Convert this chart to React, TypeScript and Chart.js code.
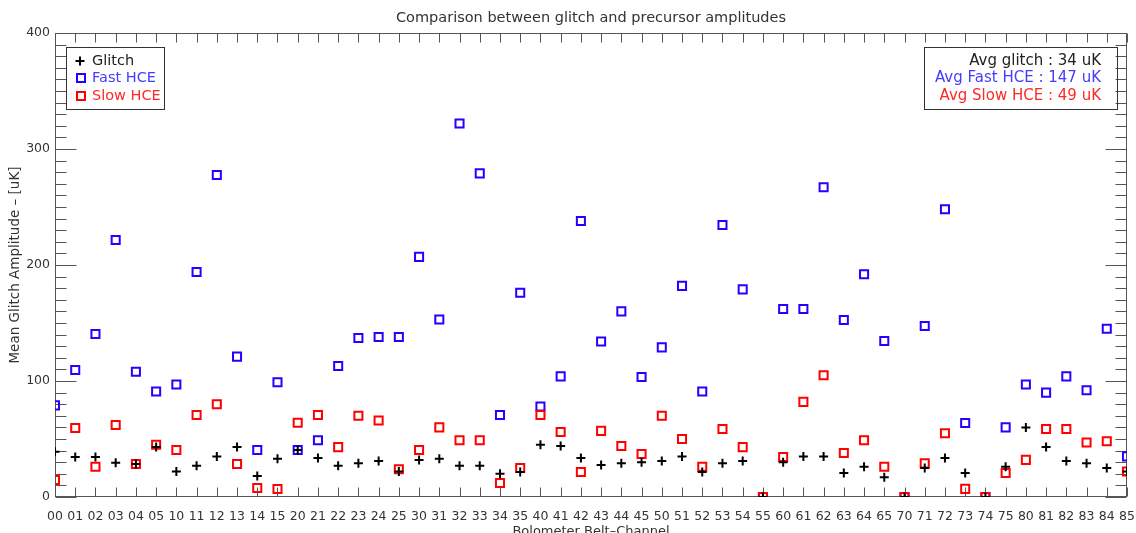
import React, { useEffect, useRef } from "react";
import { Chart, registerables } from "chart.js";

Chart.register(...registerables);

const categories = ["00","01","02","03","04","05","10","11","12","13","14","15","20","21","22","23","24","25","30","31","32","33","34","35","40","41","42","43","44","45","50","51","52","53","54","55","60","61","62","63","64","65","70","71","72","73","74","75","80","81","82","83","84","85"];

const glitch = [39,34.5,34.5,29.5,28.4,43, 22,27,35,43,18,33, 40.5,33.6,27,29,31,22, 32,33,27,27,20,21.5, 45,44,33.6,27.6,29,30, 31,35,21.5,29,31,0, 30,35,35,20.7,26,17, 0,25,33.6,20.7,0,26, 60,43,31,29,25,22];

const fastHCE = [79,109.5,140.5,221.5,108,91, 97,194,277.6,121,40.5,99, 40.5,49,113,137,138,138, 207,153,322,279,70.7,176, 78,104,238,134,160,103.5, 129,182,91,234.5,179,0, 162,162,267,152.6,192,134.5, 0,147.4,248,63.8,0,60, 97,90,104,92,145,35];

const slowHCE = [14.7,59.5,26,62,28.4,45, 40.5,70.7,80,28.4,7.8,6.9, 64,70.7,43,70,66,24, 40.5,60,49,49,12,25, 70.7,56,21.5,57,44,37, 70,50,26,58.6,43,0, 34.5,82,105,38,49,26, 0,29,55,7,0,20.7, 32,58.6,58.6,47,48,22];

const yTicks = [0, 100, 200, 300, 400];
const legendLeft = ["Glitch", "Fast HCE", "Slow HCE"];
const legendRight = ["Avg glitch : 34 uK", "Avg Fast HCE : 147 uK", "Avg Slow HCE : 49 uK"];

const TITLE = "Comparison between glitch and precursor amplitudes";
const X_TITLE = "Bolometer Belt\u2013Channel";
const Y_TITLE = "Mean Glitch Amplitude \u2013 [uK]";

const BLUE = "rgb(40,0,255)";
const RED = "rgb(255,0,0)";
const BLACK = "#000";
const AXIS = "#555";
const TEXT = "#333";
const FONT = "DejaVu Sans";

const framePlugin = {
  id: "frame",
  beforeDatasetsDraw(chart: any) {
    const { ctx, chartArea, scales } = chart;
    const { left, right, top, bottom } = chartArea;
    const x = scales.x;
    const y = scales.y;
    ctx.save();
    ctx.strokeStyle = AXIS;
    ctx.lineWidth = 1;
    const L = Math.round(left) + 0.5;
    const R = Math.round(right) - 0.5;
    const T = Math.round(top) + 0.5;
    const B = Math.round(bottom) - 0.5;
    ctx.strokeRect(L, T, R - L, B - T);
    ctx.beginPath();
    for (let i = 0; i < categories.length; i++) {
      const px = Math.round(x.getPixelForValue(i)) + 0.5;
      ctx.moveTo(px, B);
      ctx.lineTo(px, B - 9);
      ctx.moveTo(px, T);
      ctx.lineTo(px, T + 9);
    }
    for (let v = y.min; v <= y.max; v += 10) {
      const py = Math.round(y.getPixelForValue(v)) + 0.5;
      const len = v % 100 === 0 ? 21 : 11;
      ctx.moveTo(L, py);
      ctx.lineTo(L + len, py);
      ctx.moveTo(R, py);
      ctx.lineTo(R - len, py);
    }
    ctx.stroke();
    ctx.restore();
  },
  afterDraw(chart: any) {
    const { ctx } = chart;
    ctx.save();
    ctx.strokeStyle = TEXT;
    ctx.lineWidth = 1;
    ctx.strokeRect(66.5, 47.5, 98, 62);
    ctx.strokeRect(924.5, 47.5, 193, 62);
    const rows = [61, 78, 96];
    const textColors = ["#222", "rgb(70,60,255)", "rgb(255,40,40)"];
    ctx.textBaseline = "middle";
    ctx.lineWidth = 2;
    ctx.strokeStyle = BLACK;
    ctx.beginPath();
    ctx.moveTo(80, rows[0] - 4.5);
    ctx.lineTo(80, rows[0] + 4.5);
    ctx.moveTo(75.5, rows[0]);
    ctx.lineTo(84.5, rows[0]);
    ctx.stroke();
    ctx.strokeStyle = BLUE;
    ctx.strokeRect(77, rows[1] - 4, 8, 8);
    ctx.strokeStyle = RED;
    ctx.strokeRect(77, rows[2] - 4, 8, 8);
    for (let i = 0; i < 3; i++) {
      ctx.fillStyle = textColors[i];
      ctx.font = `14.5px "${FONT}"`;
      ctx.textAlign = "left";
      ctx.fillText(legendLeft[i], 92, rows[i]);
      ctx.font = `15px "${FONT}"`;
      ctx.textAlign = "right";
      ctx.fillText(legendRight[i], 1101, rows[i]);
    }
    ctx.restore();
  },
};

export default function App() {
  const ref = useRef<HTMLCanvasElement | null>(null);
  useEffect(() => {
    const canvas = ref.current;
    if (!canvas) return;
    Chart.defaults.font.family = FONT;
    const chart = new Chart(canvas, {
      type: "line",
      data: {
        labels: categories,
        datasets: [
          {
            label: "Glitch",
            data: glitch,
            showLine: false,
            pointStyle: "cross",
            pointRadius: 4.5,
            pointBorderWidth: 2,
            pointBorderColor: BLACK,
            pointBackgroundColor: BLACK,
            borderColor: BLACK,
            order: 0,
            clip: 0,
          },
          {
            label: "Fast HCE",
            data: fastHCE,
            showLine: false,
            pointStyle: "rect",
            pointRadius: 5.7,
            pointBorderWidth: 2,
            pointBorderColor: BLUE,
            pointBackgroundColor: "rgba(0,0,0,0)",
            borderColor: BLUE,
            order: 2,
            clip: 0,
          },
          {
            label: "Slow HCE",
            data: slowHCE,
            showLine: false,
            pointStyle: "rect",
            pointRadius: 5.7,
            pointBorderWidth: 2,
            pointBorderColor: RED,
            pointBackgroundColor: "rgba(0,0,0,0)",
            borderColor: RED,
            order: 1,
            clip: 0,
          },
        ],
      },
      options: {
        responsive: false,
        animation: false,
        events: [],
        layout: { padding: { left: 0, right: 9, top: 0, bottom: 0 } },
        plugins: {
          legend: { display: false },
          tooltip: { enabled: false },
          title: {
            display: true,
            text: TITLE,
            fullSize: false,
            color: TEXT,
            font: { family: FONT, size: 14.5, weight: "normal" },
            padding: { top: 10, bottom: 5.6 },
          },
        },
        scales: {
          x: {
            type: "category",
            offset: false,
            grid: { display: false, drawTicks: false },
            border: { display: false },
            ticks: {
              autoSkip: false,
              maxRotation: 0,
              minRotation: 0,
              padding: 12,
              color: TEXT,
              font: { family: FONT, size: 12.5 },
            },
            title: {
              display: true,
              text: X_TITLE,
              color: TEXT,
              font: { family: FONT, size: 13 },
              padding: { top: 0, bottom: -6 },
            },
            afterFit: (s: any) => {
              s.height = 36;
              s.paddingLeft = 0;
              s.paddingRight = 0;
            },
          },
          y: {
            min: 0,
            max: 400,
            grid: { display: false, drawTicks: false },
            border: { display: false },
            afterBuildTicks: (s: any) => {
              s.ticks = yTicks.map((v) => ({ value: v }));
            },
            ticks: {
              padding: 5,
              color: TEXT,
              font: { family: FONT, size: 12.5 },
            },
            title: {
              display: true,
              text: Y_TITLE,
              color: TEXT,
              font: { family: FONT, size: 13.5 },
              padding: { top: 7, bottom: 0 },
            },
            afterFit: (s: any) => {
              s.width = 55;
              s.paddingTop = 0;
              s.paddingBottom = 0;
            },
          },
        },
      },
      plugins: [framePlugin],
    });
    return () => chart.destroy();
  }, []);
  return (
    <div style={{ position: "absolute", left: 0, top: 0, width: 1136, height: 533, background: "#fff" }}>
      <canvas ref={ref} width={1136} height={533} style={{ width: 1136, height: 533, display: "block" }} />
    </div>
  );
}
